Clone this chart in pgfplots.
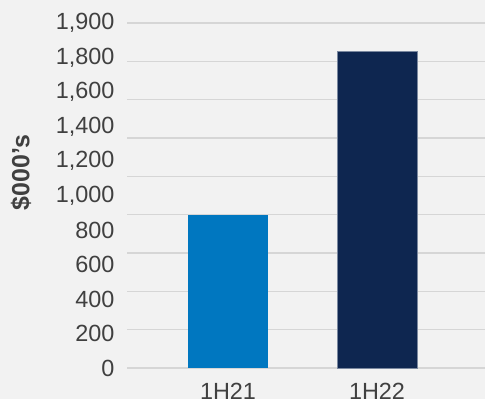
\documentclass[border=0pt]{standalone}
\usepackage{pgfplots}
\pgfplotsset{compat=1.18}
\usepackage{fontspec}
\setmainfont{Liberation Sans}
\definecolor{bg}{HTML}{F2F2F2}
\definecolor{gridc}{HTML}{D6D6D6}
\definecolor{txt}{HTML}{404040}
\definecolor{blueA}{HTML}{0077C0}
\definecolor{navy}{HTML}{0E2650}
\begin{document}
\begin{tikzpicture}[x=1bp,y=1bp]
\fill[bg] (0,0) rectangle (485,399);
\useasboundingbox (0,0) rectangle (485,399);
\begin{axis}[
  at={(127bp,31bp)}, anchor=south west,
  scale only axis, width=358bp, height=345bp,
  ymin=0, ymax=1800, xmin=-0.678, xmax=1.725,
  ytick={0,200,...,1800}, yticklabels={},
  extra y ticks={0,180,360,540,720,900,1080,1260,1440,1620,1800},
  extra y tick labels={0,200,400,600,800,{1,000},{1,200},{1,400},{1,600},{1,800},{1,900}},
  extra y tick style={grid=none, major tick length=0},
  ymajorgrids, grid style={gridc, line width=1.3bp},
  axis line style={draw=none},
  major tick length=0,
  xtick={0,1}, xticklabels={1H21,1H22},
  ticklabel style={font=\fontsize{23.5}{27}\selectfont, text=txt},
  yticklabel style={anchor=east, xshift=-9bp},
  xticklabel style={anchor=north, yshift=-12bp},
  ylabel={\$000’s},
  ylabel style={font=\bfseries\fontsize{25}{28}\selectfont, text=txt, at={(axis description cs:-0.296,0.567)}, anchor=center, rotate=0},
  clip=false,
]
\addplot[ybar, bar shift=0pt, bar width=80bp, fill=blueA, draw=none] coordinates {(0,800)};
\addplot[ybar, bar shift=0pt, bar width=80bp, fill=navy, draw=navy!55!white, line width=0.8bp] coordinates {(1,1650)};
\end{axis}
\end{tikzpicture}
\end{document}
